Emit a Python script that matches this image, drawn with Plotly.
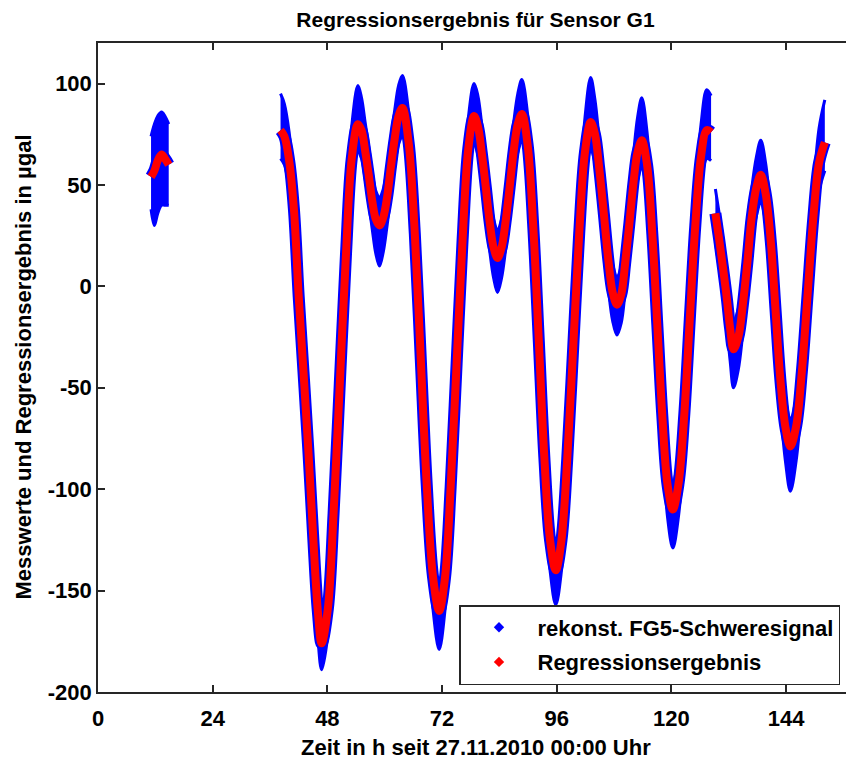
import plotly.graph_objects as go

# ---- data (time in h, values in µgal) ----
# Segment 1
t_seg1 = [11.1, 11.8, 12.5, 13.3, 14.0, 14.8]
red_seg1 = [54, 57, 62, 65, 63, 60]
up_seg1 = [20, 23, 22, 21, 21, 20]
dn_seg1 = [16, 27, 26, 25, 23, 20]

# Segment 2
t_seg2 = [38.2, 39.0, 40.0, 41.0, 42.0, 43.0, 44.0, 45.0, 46.0, 46.8,
          48.1, 49.3, 50.6, 51.9, 53.1, 54.4,
          55.15, 55.9, 56.65, 57.4, 58.15, 58.9,
          59.7, 60.5, 61.3, 62.1, 62.9, 63.7,
          65.0, 66.3, 67.55, 68.8, 70.1, 71.4,
          72.6, 73.8, 75.05, 76.3, 77.5, 78.7,
          79.5, 80.3, 81.15, 82.0, 82.8, 83.6,
          84.45, 85.3, 86.15, 87.0, 87.85, 88.7,
          89.9, 91.1, 92.25, 93.4, 94.6, 95.8,
          97.0, 98.2, 99.45, 100.7, 101.9, 103.1,
          104.0, 104.9, 105.85, 106.8, 107.7, 108.6,
          109.5, 110.3, 111.2, 112.1, 112.9, 113.8,
          114.9, 116.0, 117.05, 118.1, 119.2, 120.3,
          121.5, 122.7, 123.85, 125.0, 126.2, 127.4,
          128.3]
red_seg2 = [77, 74, 62, 38, -5, -42, -80, -122, -160, -176,
            -159, -112, -48, 16, 63, 80,
            77, 67, 55, 42, 33, 30,
            34, 44, 59, 73, 84, 88,
            71, 26, -36, -98, -143, -160,
            -144, -99, -38, 23, 68, 84,
            79, 66, 49, 31, 19, 14,
            19, 32, 49, 67, 80, 85,
            70, 29, -27, -84, -125, -140,
            -125, -85, -30, 26, 66, 81,
            75, 58, 36, 13, -3, -9,
            -4, 11, 31, 52, 66, 72,
            60, 26, -19, -64, -98, -110,
            -97, -63, -16, 30, 64, 77,
            76]
up_seg2 = [18, 16, 14, 14, 14, 14, 14, 14, 14, 14,
           14, 14, 14, 14, 16, 19,
           16, 14, 14, 14, 14, 14,
           14, 14, 14, 14, 15, 16,
           15, 14, 14, 14, 14, 14,
           14, 14, 14, 14, 15, 16,
           15, 14, 14, 14, 14, 14,
           14, 14, 14, 14, 15, 17,
           15, 14, 14, 14, 14, 14,
           14, 14, 14, 14, 17, 22,
           17, 14, 14, 14, 14, 14,
           14, 14, 14, 14, 17, 21,
           16, 14, 14, 14, 14, 14,
           14, 14, 14, 14, 16, 20,
           18]
dn_seg2 = [14, 14, 14, 14, 14, 14, 14, 14, 13, 13,
           13, 14, 14, 14, 14, 14,
           14, 14, 14, 14, 17, 20,
           17, 14, 14, 14, 14, 14,
           14, 14, 14, 14, 16, 19,
           16, 14, 14, 14, 14, 14,
           14, 14, 14, 14, 15, 17,
           15, 14, 14, 14, 14, 14,
           14, 14, 14, 14, 15, 17,
           15, 14, 14, 14, 14, 14,
           14, 14, 14, 14, 14, 15,
           14, 14, 14, 14, 14, 14,
           14, 14, 14, 14, 16, 19,
           16, 14, 14, 14, 14, 14,
           14]

# Segment 3
t_seg3 = [129.2, 130.0, 130.8, 131.6, 132.3, 133.0, 134.0, 134.9, 135.9, 136.8,
          137.8, 138.7, 139.7, 140.8, 141.8, 142.8, 143.9, 144.9, 146.1, 147.3,
          148.5, 149.7, 150.9, 152.1]
red_seg3 = [36, 23, 9, -6, -21, -31, -25, -10, 12, 34,
            49, 55, 46, 22, -12, -46, -70, -79, -69, -42,
            -4, 34, 61, 71]
up_seg3 = [12, 13, 14, 14, 14, 14, 14, 14, 14, 14,
           15, 17, 15, 14, 14, 14, 14, 14, 14, 14,
           14, 14, 17, 21]
dn_seg3 = [14, 14, 14, 14, 16, 19, 16, 14, 14, 14,
           14, 14, 14, 14, 14, 14, 17, 22, 17, 14,
           14, 14, 14, 14]

segments = [
    (t_seg1, red_seg1, up_seg1, dn_seg1),
    (t_seg2, red_seg2, up_seg2, dn_seg2),
    (t_seg3, red_seg3, up_seg3, dn_seg3),
]

x_ticks = [0, 24, 48, 72, 96, 120, 144]
y_ticks = [-200, -150, -100, -50, 0, 50, 100]

title_text = "Regressionsergebnis für Sensor G1"
xlabel = "Zeit in h seit 27.11.2010 00:00 Uhr"
ylabel = "Messwerte und Regressionsergebnis in µgal"
legend_names = ["rekonst. FG5-Schweresignal", "Regressionsergebnis"]

BLUE = "rgb(0,0,255)"
RED = "rgb(255,0,0)"
AX = "#262626"
FONT = "Liberation Sans"

# page body has an 8px margin: figure is laid out 8px right/down of the window origin
W, H = 846, 755
L, R, T, B = 90, 1, 35, 71
PW, PH = W - L - R, H - T - B

fig = go.Figure()

# blue measurement band
for t, v, up, dn in segments:
    lo = [a - b for a, b in zip(v, dn)]
    hi = [a + b for a, b in zip(v, up)]
    fig.add_trace(go.Scatter(x=t, y=lo, mode="lines", line=dict(color=BLUE, width=3, shape="spline"),
                             showlegend=False, hoverinfo="skip"))
    fig.add_trace(go.Scatter(x=t, y=hi, mode="lines", line=dict(color=BLUE, width=3, shape="spline"),
                             fill="tonexty", fillcolor=BLUE, showlegend=False, hoverinfo="skip"))

# blue fringe under the red curve
for t, v, up, dn in segments:
    fig.add_trace(go.Scatter(x=t, y=v, mode="lines", line=dict(color=BLUE, width=12, shape="spline"),
                             showlegend=False, hoverinfo="skip"))

# red regression curve
for t, v, up, dn in segments:
    fig.add_trace(go.Scatter(x=t, y=v, mode="lines", line=dict(color=RED, width=8, shape="spline"),
                             showlegend=False, hoverinfo="skip"))

# legend entries
fig.add_trace(go.Scatter(x=[None], y=[None], mode="markers", name=legend_names[0],
                         marker=dict(symbol="diamond", size=8, color=BLUE), legendgroup="a"))
fig.add_trace(go.Scatter(x=[None], y=[None], mode="markers", name=legend_names[1],
                         marker=dict(symbol="diamond", size=8, color=RED), legendgroup="b"))

fig.update_layout(
    width=W, height=H,
    margin=dict(l=L, r=R, t=T, b=B, autoexpand=False),
    paper_bgcolor="white", plot_bgcolor="white",
    font=dict(family=FONT, size=22, color="black", weight="bold"),
    title=dict(text=title_text, x=(L + PW / 2) / W, xanchor="center", y=1 - 12 / H, yanchor="middle",
               font=dict(family=FONT, size=21, color="black", weight="bold")),
    showlegend=True,
    legend=dict(x=(459 - 98) / PW, xanchor="left", y=(692 - 605) / PH, yanchor="top",
                bgcolor="white", bordercolor=AX, borderwidth=1.5,
                font=dict(family=FONT, size=22, color="black", weight="bold"),
                itemwidth=67, tracegroupgap=3, traceorder="grouped"),
    xaxis=dict(range=[0, 158], tickvals=x_ticks, ticktext=[str(v) for v in x_ticks],
               ticks="inside", ticklen=7, tickwidth=1.5, tickcolor=AX,
               showline=True, linecolor=AX, linewidth=1.5, mirror="ticks",
               showgrid=False, zeroline=False, ticklabelstandoff=6, automargin=False,
               tickfont=dict(family=FONT, size=22, color="black", weight="bold")),
    yaxis=dict(range=[-200, 120], tickvals=y_ticks, ticktext=[str(v) for v in y_ticks],
               ticks="inside", ticklen=7, tickwidth=1.5, tickcolor=AX,
               showline=True, linecolor=AX, linewidth=1.5, mirror=False,
               showgrid=False, zeroline=False, ticklabelstandoff=0, automargin=False,
               tickfont=dict(family=FONT, size=22, color="black", weight="bold")),
    annotations=[
        dict(text=xlabel, xref="paper", yref="paper", x=0.5, y=-55 / PH,
             xanchor="center", yanchor="middle", showarrow=False,
             font=dict(family=FONT, size=22, color="black", weight="bold")),
        dict(text=ylabel, xref="paper", yref="paper", x=(23 - 98) / PW, y=0.5,
             xanchor="center", yanchor="middle", showarrow=False, textangle=-90,
             font=dict(family=FONT, size=22, color="black", weight="bold")),
    ],
)

fig.write_html("out.html")
